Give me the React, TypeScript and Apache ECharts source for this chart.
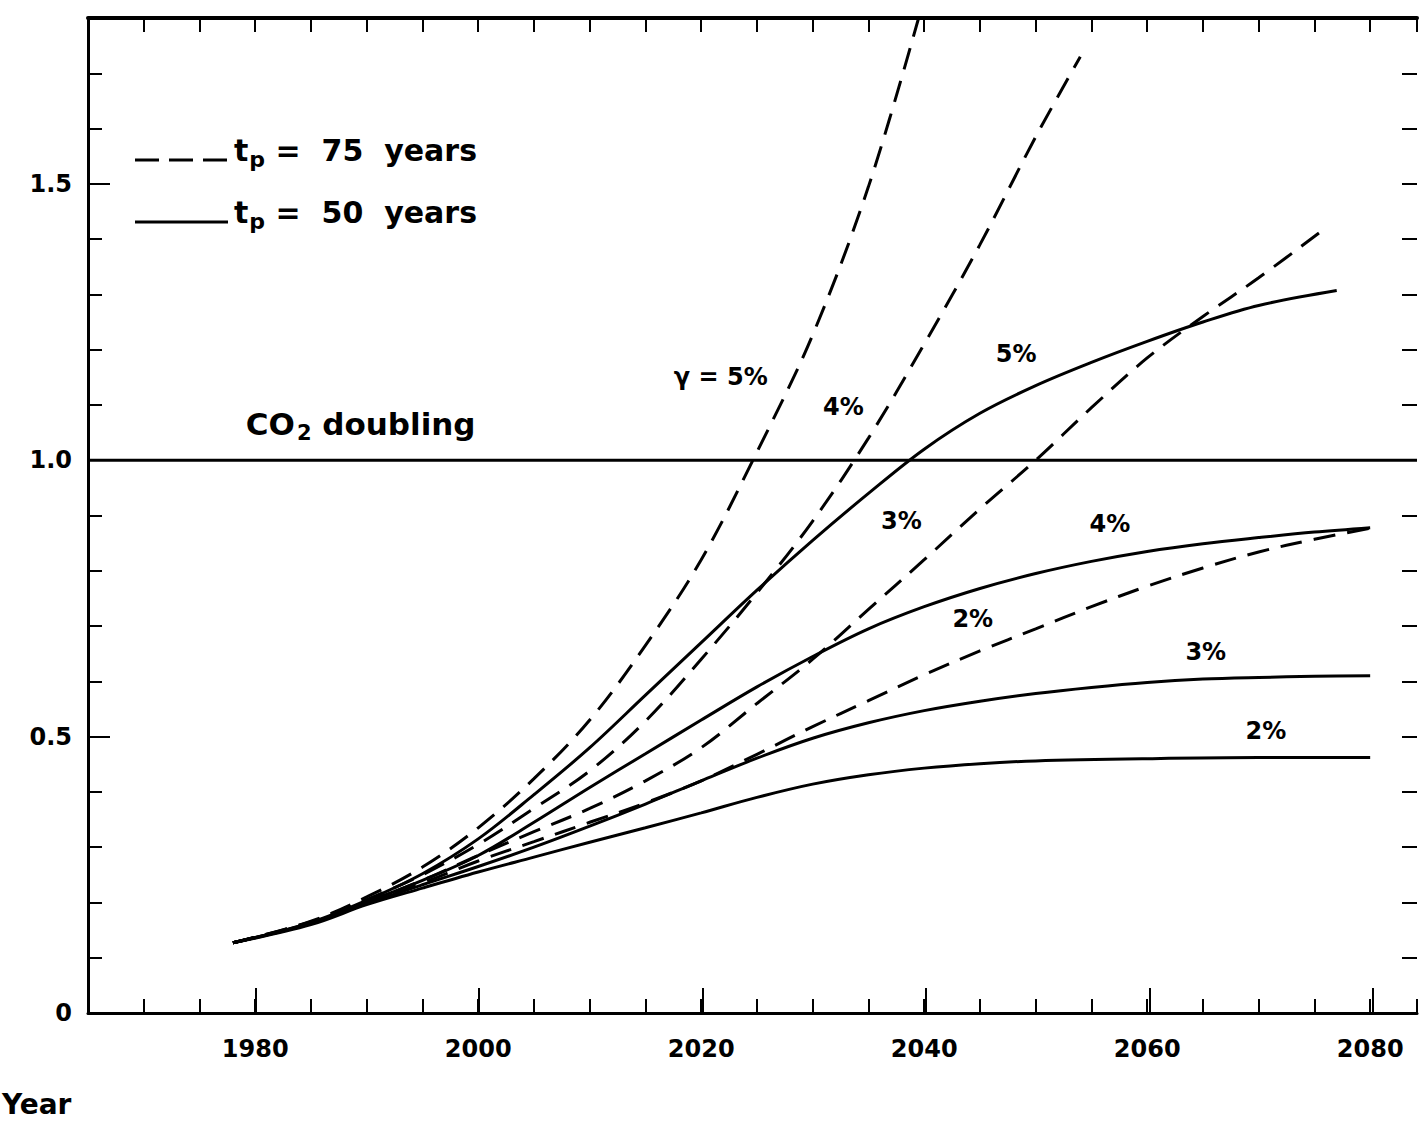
import React, { useEffect, useRef } from 'react';
import * as echarts from 'echarts';

const FONT = '"DejaVu Sans", "Liberation Sans", sans-serif';

// Axis ranges and ticks
const X_MIN = 1965;
const X_MAX = 2084.2;
const Y_MIN = 0;
const Y_MAX = 1.8;
const X_MINOR_STEP = 5;
const Y_MINOR_STEP = 0.1;
const X_LABEL_YEARS = [1980, 2000, 2020, 2040, 2060, 2080];
const Y_LABEL_VALUES = [0, 0.5, 1.0, 1.5];
const Y_MAJOR_TICKS = [0.5, 1.0, 1.5];
const CO2_DOUBLING = 1.0;

// t_p = 50 years (solid lines), growth rate gamma = 2..5 %
const SOLID_2: [number, number][] = [
  [1978, 0.127], [1985, 0.16], [1990, 0.196], [1995, 0.226], [2000, 0.255], [2005, 0.282],
  [2010, 0.309], [2015, 0.335], [2020, 0.362], [2025, 0.39], [2030, 0.414], [2035, 0.431],
  [2040, 0.443], [2045, 0.451], [2050, 0.456], [2060, 0.46], [2070, 0.462], [2080, 0.462],
];
const SOLID_3: [number, number][] = [
  [1978, 0.127], [1985, 0.162], [1990, 0.198], [1995, 0.232], [2000, 0.265], [2005, 0.3],
  [2010, 0.338], [2015, 0.378], [2020, 0.42], [2025, 0.461], [2030, 0.497], [2035, 0.525],
  [2040, 0.547], [2045, 0.564], [2050, 0.578], [2055, 0.589], [2060, 0.598], [2065, 0.604],
  [2070, 0.607], [2075, 0.609], [2080, 0.61],
];
const SOLID_4: [number, number][] = [
  [1978, 0.127], [1985, 0.163], [1990, 0.201], [1995, 0.24], [2000, 0.285], [2005, 0.345],
  [2010, 0.408], [2015, 0.469], [2020, 0.53], [2025, 0.59], [2030, 0.645], [2035, 0.695],
  [2040, 0.735], [2045, 0.768], [2050, 0.795], [2055, 0.817], [2060, 0.835], [2065, 0.849],
  [2070, 0.86], [2075, 0.87], [2080, 0.878],
];
const SOLID_5: [number, number][] = [
  [1978, 0.127], [1985, 0.164], [1990, 0.204], [1995, 0.252], [2000, 0.315], [2005, 0.395],
  [2010, 0.48], [2015, 0.575], [2020, 0.67], [2025, 0.765], [2030, 0.855], [2035, 0.94],
  [2040, 1.02], [2045, 1.085], [2050, 1.135], [2055, 1.177], [2060, 1.215], [2065, 1.25],
  [2070, 1.28], [2077, 1.307],
];

// t_p = 75 years (dashed lines)
const DASHED_2: [number, number][] = [
  [1978, 0.127], [1985, 0.162], [1990, 0.198], [1995, 0.235], [2000, 0.275], [2005, 0.31],
  [2010, 0.345], [2015, 0.38], [2020, 0.42], [2025, 0.468], [2030, 0.518], [2035, 0.565],
  [2040, 0.612], [2045, 0.655], [2050, 0.695], [2055, 0.735], [2060, 0.772], [2065, 0.805],
  [2070, 0.834], [2075, 0.857], [2080, 0.877],
];
const DASHED_3: [number, number][] = [
  [1978, 0.127], [1985, 0.163], [1990, 0.2], [1995, 0.24], [2000, 0.285], [2005, 0.328],
  [2010, 0.37], [2015, 0.42], [2020, 0.48], [2025, 0.56], [2030, 0.64], [2035, 0.73],
  [2040, 0.82], [2045, 0.912], [2050, 1.0], [2055, 1.095], [2060, 1.185], [2065, 1.26],
  [2070, 1.33], [2076, 1.42],
];
const DASHED_4: [number, number][] = [
  [1978, 0.127], [1985, 0.165], [1990, 0.205], [1995, 0.25], [2000, 0.305], [2005, 0.37],
  [2010, 0.438], [2015, 0.528], [2020, 0.64], [2025, 0.76], [2030, 0.89], [2035, 1.04],
  [2040, 1.21], [2045, 1.39], [2050, 1.585], [2054, 1.73],
];
const DASHED_5: [number, number][] = [
  [1978, 0.127], [1985, 0.166], [1990, 0.21], [1995, 0.264], [2000, 0.335], [2005, 0.424],
  [2010, 0.53], [2015, 0.665], [2020, 0.82], [2025, 1.015], [2030, 1.227], [2035, 1.495],
  [2039.5, 1.8],
];

// Curve annotations
const LABEL_TEXTS = ['γ = 5%', '4%', '5%', '3%', '4%', '2%', '3%', '2%'];
const LABEL_YEARS = [2021.8, 2032.8, 2048.3, 2038.0, 2056.7, 2044.4, 2065.3, 2070.7];
const LABEL_VALUES = [1.149, 1.095, 1.191, 0.889, 0.883, 0.711, 0.653, 0.509];
const CO2_LABEL_YEAR = 1989.5;
const CO2_LABEL_VALUE = 1.064;

const DASH = [22, 12];

const CURVES = [
  { name: 'tp = 50 years, 2%', data: SOLID_2, dashed: false },
  { name: 'tp = 50 years, 3%', data: SOLID_3, dashed: false },
  { name: 'tp = 50 years, 4%', data: SOLID_4, dashed: false },
  { name: 'tp = 50 years, 5%', data: SOLID_5, dashed: false },
  { name: 'tp = 75 years, 2%', data: DASHED_2, dashed: true },
  { name: 'tp = 75 years, 3%', data: DASHED_3, dashed: true },
  { name: 'tp = 75 years, 4%', data: DASHED_4, dashed: true },
  { name: 'tp = 75 years, 5%', data: DASHED_5, dashed: true },
];

const boldText = { color: '#000', fontFamily: FONT, fontWeight: 'bold' as const };

function buildOption(): any {
  const gridBox = { left: 88, top: 18, right: 0, bottom: 110, containLabel: false };
  const xBase = { type: 'value', min: X_MIN, max: X_MAX, splitLine: { show: false } };
  const yBase = { type: 'value', min: Y_MIN, max: Y_MAX, splitLine: { show: false } };
  const tickStyle = { color: '#000', width: 2 };

  const textLabel = {
    show: true,
    position: [0, 0],
    align: 'center',
    verticalAlign: 'middle',
    textBorderWidth: 0,
    opacity: 1,
  };
  const invisibleItem = { color: 'rgba(255,255,255,0)', opacity: 1 };

  return {
    animation: false,
    backgroundColor: '#ffffff',
    grid: [gridBox, { ...gridBox }],
    xAxis: [
      {
        ...xBase,
        gridIndex: 0,
        position: 'bottom',
        interval: X_MINOR_STEP,
        axisLine: { show: true, onZero: false, lineStyle: { color: '#000', width: 3 } },
        axisTick: { show: true, inside: true, length: 14, lineStyle: tickStyle },
        axisLabel: {
          show: true,
          ...boldText,
          fontSize: 24,
          margin: 24,
          formatter: (v: number) =>
            X_LABEL_YEARS.includes(Math.round(v)) && Math.abs(v - Math.round(v)) < 1e-6 ? String(Math.round(v)) : '',
        },
      },
      {
        ...xBase,
        gridIndex: 0,
        position: 'top',
        interval: X_MINOR_STEP,
        axisLine: { show: true, onZero: false, lineStyle: { color: '#000', width: 4 } },
        axisTick: { show: true, inside: true, length: 14, lineStyle: tickStyle },
        axisLabel: { show: false },
      },
      {
        ...xBase,
        gridIndex: 1,
        position: 'bottom',
        axisLine: { show: false, onZero: false },
        axisTick: { show: true, inside: true, length: 25, lineStyle: tickStyle, customValues: X_LABEL_YEARS },
        axisLabel: { show: false },
      },
    ],
    yAxis: [
      {
        ...yBase,
        gridIndex: 0,
        position: 'left',
        interval: Y_MINOR_STEP,
        axisLine: { show: true, onZero: false, lineStyle: { color: '#000', width: 3 } },
        axisTick: { show: true, inside: true, length: 14, lineStyle: tickStyle },
        axisLabel: {
          show: true,
          ...boldText,
          fontSize: 24,
          margin: 16,
          formatter: (v: number) => {
            const r = Math.round(v * 10);
            const hit = Y_LABEL_VALUES.some((t) => Math.round(t * 10) === r);
            if (!hit) return '';
            return r === 0 ? '0' : (r / 10).toFixed(1);
          },
        },
      },
      {
        ...yBase,
        gridIndex: 0,
        position: 'right',
        interval: Y_MINOR_STEP,
        axisLine: { show: false, onZero: false },
        axisTick: { show: true, inside: true, length: 15, lineStyle: tickStyle },
        axisLabel: { show: false },
      },
      {
        ...yBase,
        gridIndex: 1,
        position: 'left',
        axisLine: { show: false, onZero: false },
        axisTick: { show: true, inside: true, length: 22, lineStyle: tickStyle, customValues: Y_MAJOR_TICKS },
        axisLabel: { show: false },
      },
    ],
    series: [
      {
        name: 'CO2 doubling',
        type: 'line',
        xAxisIndex: 0,
        yAxisIndex: 0,
        data: [[X_MIN, CO2_DOUBLING], [X_MAX, CO2_DOUBLING]],
        symbol: 'none',
        silent: true,
        lineStyle: { color: '#000', width: 3 },
        z: 2,
      },
      ...CURVES.map((c) => ({
        name: c.name,
        type: 'line',
        xAxisIndex: 0,
        yAxisIndex: 0,
        data: c.data,
        symbol: 'none',
        smooth: 0.35,
        clip: true,
        silent: true,
        lineStyle: { color: '#000', width: 3, type: c.dashed ? DASH : 'solid', cap: 'butt' },
        z: 3,
      })),
      {
        name: 'curve labels',
        type: 'scatter',
        xAxisIndex: 0,
        yAxisIndex: 0,
        symbol: 'circle',
        symbolSize: 1,
        itemStyle: invisibleItem,
        silent: true,
        data: LABEL_TEXTS.map((t, i) => ({ name: t, value: [LABEL_YEARS[i], LABEL_VALUES[i]] })),
        label: { ...textLabel, formatter: '{b}', ...boldText, fontSize: 24 },
        z: 5,
      },
      {
        name: 'co2 label',
        type: 'scatter',
        xAxisIndex: 0,
        yAxisIndex: 0,
        symbol: 'circle',
        symbolSize: 1,
        itemStyle: invisibleItem,
        silent: true,
        data: [{ name: 'CO2 doubling', value: [CO2_LABEL_YEAR, CO2_LABEL_VALUE] }],
        label: {
          ...textLabel,
          ...boldText,
          formatter: '{m|CO}{s|2}{m| doubling}',
          rich: {
            m: { ...boldText, fontSize: 31 },
            s: { ...boldText, fontSize: 21, padding: [17, 0, 0, 2] },
          },
        },
        z: 5,
      },
    ],
    graphic: [
      {
        type: 'line',
        shape: { x1: 135, y1: 160, x2: 228, y2: 160 },
        style: { stroke: '#000', lineWidth: 3, lineDash: [24, 10] },
        silent: true,
      },
      {
        type: 'line',
        shape: { x1: 135, y1: 222, x2: 228, y2: 222 },
        style: { stroke: '#000', lineWidth: 3 },
        silent: true,
      },
      {
        type: 'text',
        x: 234,
        y: 150,
        style: {
          text: '{m|t}{s|p}{m| =  75  years}',
          verticalAlign: 'middle',
          rich: {
            m: { ...boldText, fontSize: 30 },
            s: { ...boldText, fontSize: 22, padding: [18, 0, 0, 1] },
          },
        },
        silent: true,
      },
      {
        type: 'text',
        x: 234,
        y: 212,
        style: {
          text: '{m|t}{s|p}{m| =  50  years}',
          verticalAlign: 'middle',
          rich: {
            m: { ...boldText, fontSize: 30 },
            s: { ...boldText, fontSize: 22, padding: [18, 0, 0, 1] },
          },
        },
        silent: true,
      },
      {
        type: 'text',
        left: 2,
        top: 1090,
        style: { text: 'Year', fill: '#000', font: `bold 28px ${FONT}` },
        silent: true,
      },
    ],
  };
}

export default function App() {
  const ref = useRef<HTMLDivElement>(null);
  useEffect(() => {
    if (!ref.current) return;
    const chart = echarts.init(ref.current, null, { renderer: 'svg' });
    chart.setOption(buildOption());
    return () => chart.dispose();
  }, []);
  return (
    <div
      ref={ref}
      style={{ position: 'fixed', left: 0, top: 0, width: 1420, height: 1123, background: '#fff' }}
    />
  );
}
